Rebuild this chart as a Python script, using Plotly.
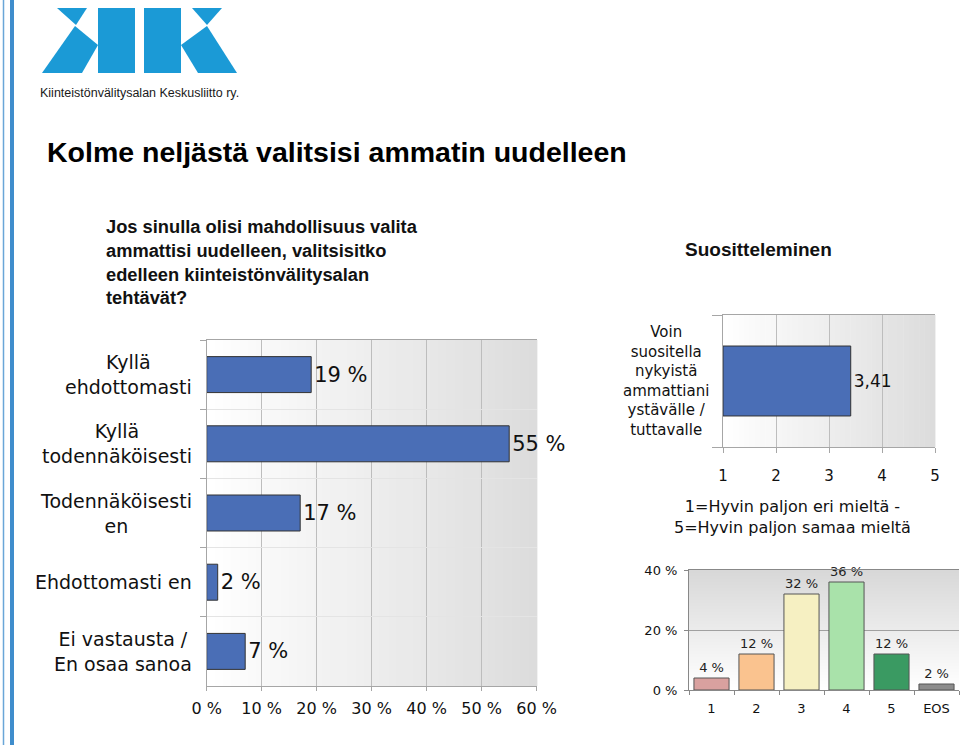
import plotly.graph_objects as go

W, H = 960, 745

def px(x):
    return x / W

def py(y):
    return 1 - y / H

# ---------------- data ----------------
q_keys = ["k1", "k2", "k3", "k4", "k5"]
q_labels = ["Kyllä<br>ehdottomasti", "Kyllä<br>todennäköisesti", "Todennäköisesti<br>en",
            "Ehdottomasti en", "Ei vastausta /<br>En osaa sanoa"]
q_values = [19, 55, 17, 2, 7]
q_ticks = [0, 10, 20, 30, 40, 50, 60]

rec_keys = ["r1"]
rec_labels = ["Voin<br>suositella<br>nykyistä<br>ammattiani<br>ystävälle /<br>tuttavalle"]
rec_mean = [3.41]
rec_ticks = [1, 2, 3, 4, 5]

dist_categories = ["1", "2", "3", "4", "5", "EOS"]
dist_values = [4, 12, 32, 36, 12, 2]
dist_ticks = [0, 20, 40]
dist_colors = ["#d9a19f", "#fac38f", "#f6f0c2", "#a9e2aa", "#3a9a62", "#8c8c8c"]

FONT = "DejaVu Sans"
ARIAL = "Liberation Sans"

fig = go.Figure()

# left chart
fig.add_trace(go.Bar(
    x=q_values, y=q_keys, customdata=q_values, orientation="h", xaxis="x", yaxis="y",
    width=0.52,
    marker=dict(color="#4a6eb6", line=dict(color="#333333", width=1)),
    texttemplate="%{customdata} %", textposition="outside", cliponaxis=False,
    constraintext="none",
    textfont=dict(family=FONT, size=21, color="#111111"),
    hoverinfo="skip", showlegend=False))

# top right chart (scale starts at 1)
fig.add_trace(go.Bar(
    x=[v - rec_ticks[0] for v in rec_mean], base=rec_ticks[0], y=rec_keys,
    customdata=[f"{v:.2f}".replace(".", ",") for v in rec_mean], orientation="h",
    xaxis="x2", yaxis="y2", width=0.53,
    marker=dict(color="#4a6eb6", line=dict(color="#333333", width=1)),
    texttemplate="%{customdata}", textposition="outside", cliponaxis=False,
    constraintext="none",
    textfont=dict(family=FONT, size=17, color="#111111"),
    hoverinfo="skip", showlegend=False))

# bottom right chart
fig.add_trace(go.Bar(
    x=dist_categories, y=dist_values, customdata=dist_values, xaxis="x3", yaxis="y3",
    width=0.78,
    marker=dict(color=dist_colors, line=dict(color="#555555", width=1)),
    texttemplate="%{customdata} %", textposition="outside", cliponaxis=False,
    constraintext="none",
    textfont=dict(family=FONT, size=13, color="#222222"),
    hoverinfo="skip", showlegend=False))

# ---------------- background gradients ----------------
shapes = []
N = 40
for i in range(N):
    g = round(255 - (255 - 220) * (i + 0.5) / N)
    col = f"rgb({g},{g},{g})"
    for xr, yr in (("x domain", "y domain"), ("x2 domain", "y2 domain")):
        shapes.append(dict(type="rect", xref=xr, yref=yr, x0=i / N, x1=(i + 1) / N + 0.002,
                           y0=0, y1=1, fillcolor=col, line=dict(width=0), layer="below"))
    g2 = round(255 - (255 - 216) * (i + 0.5) / N)
    shapes.append(dict(type="rect", xref="x3 domain", yref="y3 domain", x0=0, x1=1,
                       y0=i / N, y1=(i + 1) / N + 0.002, fillcolor=f"rgb({g2},{g2},{g2})",
                       line=dict(width=0), layer="below"))

# left border lines
shapes.append(dict(type="line", xref="paper", yref="paper", x0=px(3.5), x1=px(3.5), y0=0, y1=1,
                   line=dict(color="#6aa6d8", width=1.5)))
shapes.append(dict(type="line", xref="paper", yref="paper", x0=px(12), x1=px(12), y0=0, y1=1,
                   line=dict(color="#3f8dcc", width=4)))

# logo
def poly(pts):
    s = "M " + " L ".join(f"{px(x):.5f},{py(y):.5f}" for x, y in pts) + " Z"
    return dict(type="path", xref="paper", yref="paper", path=s,
                fillcolor="#1b9ad6", line=dict(width=0))

shapes += [
    poly([(57, 8), (87, 8), (76, 25)]),
    poly([(75, 26), (98, 45), (82, 73), (42, 73)]),
    poly([(98, 8), (135, 8), (135, 73), (98, 73)]),
    poly([(144, 8), (181, 8), (181, 73), (144, 73)]),
    poly([(192, 8), (222, 8), (207, 25)]),
    poly([(207, 26), (237, 73), (198, 73), (181, 45)]),
]

# ---------------- annotations ----------------
ann = []
ann.append(dict(text="Kiinteistönvälitysalan Keskusliitto ry.", x=px(38), y=py(93),
                xref="paper", yref="paper", xanchor="left", yanchor="middle", showarrow=False,
                font=dict(family=ARIAL, size=12.5, color="#1a1a1a")))
ann.append(dict(text="Kolme neljästä valitsisi ammatin uudelleen", x=px(45), y=py(152),
                xref="paper", yref="paper", xanchor="left", yanchor="middle", showarrow=False,
                font=dict(family=ARIAL, size=28.5, color="#000000", weight="bold")))
ann.append(dict(text="Jos sinulla olisi mahdollisuus valita<br>ammattisi uudelleen, valitsisitko<br>"
                     "edelleen kiinteistönvälitysalan<br>tehtävät?",
                x=px(104), y=py(262), xref="paper", yref="paper", xanchor="left", yanchor="middle",
                align="left", showarrow=False,
                font=dict(family=ARIAL, size=18.3, color="#111111", weight="bold")))
ann.append(dict(text="Suositteleminen", x=px(683), y=py(249), xref="paper", yref="paper",
                xanchor="left", yanchor="middle", showarrow=False,
                font=dict(family=ARIAL, size=19, color="#111111", weight="bold")))
for k, lab in zip(q_keys, q_labels):
    ann.append(dict(text=lab, x=px(194), y=k, xref="paper", yref="y", xanchor="right",
                    yanchor="middle", align="center", showarrow=False,
                    font=dict(family=FONT, size=19, color="#111111")))
for k, lab in zip(rec_keys, rec_labels):
    ann.append(dict(text=lab, x=px(711), y=k, xref="paper", yref="y2", xanchor="right",
                    yanchor="middle", align="center", showarrow=False,
                    font=dict(family=FONT, size=15, color="#111111")))
ann.append(dict(text="1=Hyvin paljon eri mieltä -<br>5=Hyvin paljon samaa mieltä",
                x=px(792), y=py(517), xref="paper", yref="paper", xanchor="center", yanchor="middle",
                align="center", showarrow=False, font=dict(family=FONT, size=16, color="#111111")))

grid = "#bdbdbd"
fig.update_layout(
    width=W, height=H, margin=dict(l=0, r=0, t=0, b=0, autoexpand=False),
    paper_bgcolor="white", plot_bgcolor="white",
    shapes=shapes, annotations=ann,
    xaxis=dict(domain=[px(206.7), px(536.7)], anchor="y", range=[0, 60], tickmode="array",
               tickvals=q_ticks, ticktext=[f"{v} %" for v in q_ticks], automargin=False,
               showgrid=True, gridcolor=grid, zeroline=False,
               showline=True, linecolor="#a6a6a6", mirror=True, ticks="outside", ticklen=4,
               tickcolor="#a6a6a6", ticklabelstandoff=4,
               tickfont=dict(family=FONT, size=16, color="#111111")),
    yaxis=dict(domain=[py(686), py(340)], anchor="x", type="category", categoryorder="array",
               categoryarray=q_keys, autorange="reversed", showticklabels=False, automargin=False,
               tickson="boundaries", ticks="outside", ticklen=6, tickcolor="#a6a6a6",
               showgrid=True, gridcolor="#e4e4e4", showline=True, linecolor="#a6a6a6"),
    xaxis2=dict(domain=[px(723), px(935)], anchor="y2", range=[1, 5], tickmode="array",
                tickvals=rec_ticks, ticktext=[str(v) for v in rec_ticks], automargin=False,
                showgrid=True, gridcolor=grid, zeroline=False, showline=True,
                linecolor="#a6a6a6", mirror=True, ticks="outside", ticklen=5, tickcolor="#a6a6a6",
                ticklabelstandoff=10, tickfont=dict(family=FONT, size=15, color="#111111")),
    yaxis2=dict(domain=[py(447), py(315)], anchor="x2", type="category", showticklabels=False,
                automargin=False,
                tickson="boundaries", ticks="outside", ticklen=10, tickcolor="#a6a6a6",
                showgrid=False, showline=True, linecolor="#a6a6a6"),
    xaxis3=dict(domain=[px(689), px(959)], anchor="y3", type="category", automargin=False,
                categoryorder="array", categoryarray=dist_categories,
                tickson="boundaries", ticks="outside", ticklen=4, tickcolor="#888888",
                showgrid=False, showline=True, linecolor="#888888", mirror=True,
                ticklabelstandoff=6, tickfont=dict(family=FONT, size=13, color="#111111")),
    yaxis3=dict(domain=[py(690), py(570)], anchor="x3", range=[0, 40], tickmode="array",
                tickvals=dist_ticks, ticktext=[f"{v} %" for v in dist_ticks], automargin=False,
                showgrid=True, gridcolor="#a0a0a0", zeroline=False,
                showline=True, linecolor="#888888", ticks="outside", ticklen=4,
                tickcolor="#888888", ticklabelstandoff=4,
                tickfont=dict(family=FONT, size=13, color="#111111")),
)

fig.write_html("out.html")
